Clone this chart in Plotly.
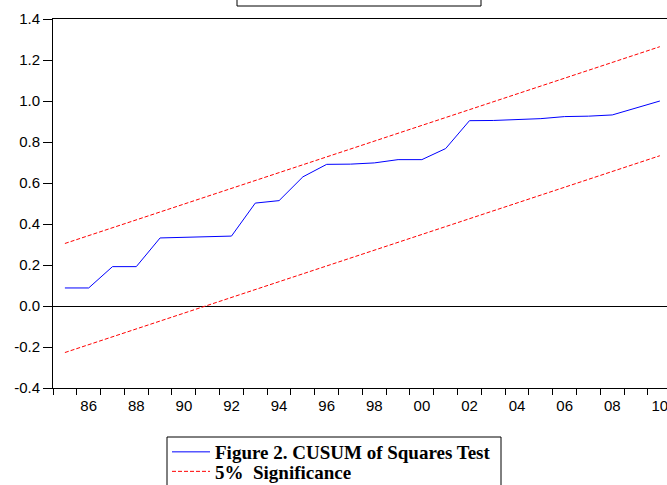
import plotly.graph_objects as go

years = list(range(1985, 2011))
cusum_sq = [0.088, 0.088, 0.192, 0.192, 0.332, 0.336, 0.339, 0.341, 0.502, 0.514,
            0.630, 0.691, 0.692, 0.698, 0.714, 0.714, 0.768, 0.904, 0.905, 0.910,
            0.914, 0.924, 0.926, 0.932, 0.966, 1.000]
bound_years = [1985, 2010]
upper_5pct = [0.305, 1.265]
lower_5pct = [-0.227, 0.733]

y_tickvals = [-0.4, -0.2, 0.0, 0.2, 0.4, 0.6, 0.8, 1.0, 1.2, 1.4]
y_ticktext = ["-0.4", "-0.2", "0.0", "0.2", "0.4", "0.6", "0.8", "1.0", "1.2", "1.4"]
x_tickvals = list(range(1986, 2011, 2))
x_ticktext = ["86", "88", "90", "92", "94", "96", "98", "00", "02", "04", "06", "08", "10"]
x_boundaries = [y - 0.5 for y in range(1985, 2012)]

# plot area in pixels: left 53, top 19, width 614, height 369
def px_x(p):
    return (p - 53) / 614

def px_y(p):
    return (388 - p) / 369

legend_font = dict(family="Liberation Serif, Times New Roman", size=19, weight="bold", color="black")

fig = go.Figure()
fig.add_trace(go.Scatter(x=years, y=cusum_sq, mode="lines",
                         line=dict(color="#0000ff", width=1),
                         name="Figure 2. CUSUM of Squares Test", legend="legend"))
fig.add_trace(go.Scatter(x=bound_years, y=upper_5pct, mode="lines",
                         line=dict(color="#ff0000", width=1, dash="4px,2px"),
                         name="5%  Significance", legend="legend2"))
fig.add_trace(go.Scatter(x=bound_years, y=lower_5pct, mode="lines",
                         line=dict(color="#ff0000", width=1, dash="4px,2px"),
                         showlegend=False, legend="legend2"))

fig.update_layout(
    width=667, height=485,
    margin=dict(l=53, r=0, t=19, b=97, autoexpand=False),
    paper_bgcolor="white", plot_bgcolor="white",
    font=dict(family="Liberation Sans, Arial", size=15, color="black"),
    showlegend=True,
    legend=dict(
        x=px_x(167), y=px_y(433), xanchor="left", yanchor="top",
        bgcolor="rgba(0,0,0,0)", borderwidth=0,
        font=legend_font, tracegroupgap=0, itemwidth=38,
    ),
    legend2=dict(
        x=px_x(167), y=px_y(452.5), xanchor="left", yanchor="top",
        bgcolor="rgba(0,0,0,0)", borderwidth=0,
        font=legend_font, tracegroupgap=0, itemwidth=38,
    ),
    xaxis=dict(
        range=[1984.5, 2010.3], showgrid=False, zeroline=False, automargin=False,
        showline=True, linecolor="black", linewidth=1, mirror=True,
        tickmode="array", tickvals=x_tickvals, ticktext=x_ticktext, ticks="",
        tickfont=dict(size=15), ticklabeloverflow="allow", ticklabelstandoff=4,
        minor=dict(tickmode="array", tickvals=x_boundaries, ticks="outside",
                   ticklen=6, tickcolor="black", tickwidth=1, showgrid=False),
    ),
    yaxis=dict(
        range=[-0.4, 1.4], showgrid=False, automargin=False,
        zeroline=True, zerolinecolor="black", zerolinewidth=1,
        showline=True, linecolor="black", linewidth=1,
        tickmode="array", tickvals=y_tickvals, ticktext=y_ticktext,
        ticks="outside", ticklen=9, tickcolor="black", tickwidth=1,
        tickfont=dict(size=15), ticklabeloverflow="allow",
    ),
    shapes=[
        dict(type="rect", xref="paper", yref="paper",
             x0=px_x(237), x1=px_x(481), y0=px_y(6), y1=px_y(-40),
             line=dict(color="black", width=1), fillcolor="white", layer="above"),
        dict(type="rect", xref="paper", yref="paper",
             x0=px_x(167), x1=px_x(501), y0=px_y(520), y1=px_y(437),
             line=dict(color="black", width=1), fillcolor="rgba(0,0,0,0)", layer="above"),
    ],
)

fig.write_html("out.html", config={"displayModeBar": False},
               post_script="document.body.style.margin='0px';document.body.style.overflow='hidden';")
